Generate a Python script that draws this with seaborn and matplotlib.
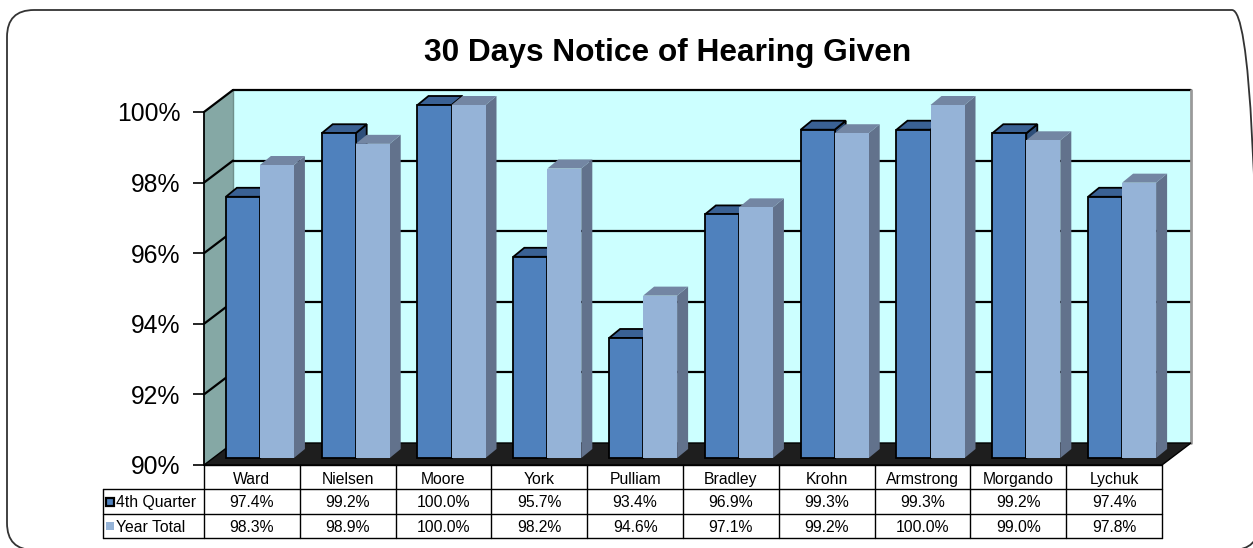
import pandas as pd
import seaborn as sns
import matplotlib.pyplot as plt
from matplotlib.patches import Rectangle, Polygon, FancyBboxPatch
from matplotlib.transforms import offset_copy, IdentityTransform

# data
judges = ["Ward", "Nielsen", "Moore", "York", "Pulliam", "Bradley",
          "Krohn", "Armstrong", "Morgando", "Lychuk"]
q4 = [97.4, 99.2, 100.0, 95.7, 93.4, 96.9, 99.3, 99.3, 99.2, 97.4]
year = [98.3, 98.9, 100.0, 98.2, 94.6, 97.1, 99.2, 100.0, 99.0, 97.8]
series = ["4th Quarter", "Year Total"]
yticks = [90, 92, 94, 96, 98, 100]

# colours for front / top / side faces
front = ["#4F81BD", "#95B3D7"]
top = ["#3A6194", "#7386A3"]
side = ["#2E4F7A", "#62728C"]
edge = ["black", "none"]

W, H = 1253, 548
sns.set_theme(style="white")
plt.rcParams["font.family"] = ["Liberation Sans", "DejaVu Sans"]
plt.rcParams["text.color"] = "black"
plt.rcParams["ytick.color"] = "black"
plt.rcParams["ytick.labelcolor"] = "black"

fig = plt.figure(figsize=(W / 100, H / 100), dpi=100)
ax = fig.add_axes([204 / W, (H - 465) / H, 958 / W, 353 / H])
ax.patch.set_visible(False)

df = pd.DataFrame({
    "Judge": judges * 2,
    "Period": [series[0]] * len(judges) + [series[1]] * len(judges),
    "Value": q4 + year,
})
sns.barplot(data=df, x="Judge", y="Value", hue="Period", hue_order=series,
            palette=front, width=0.71, saturation=1, legend=False, ax=ax)
bars = list(ax.patches)

ax.set_xlim(-0.5, 9.5)
ax.set_ylim(90, 100)
ax.set_autoscale_on(False)

# 3d depth offsets in pixels
DX, DY = 29, 22     # wall depth
BX, BY = 8, 7       # bar front inset
FX, FY = 11, 9      # bar depth
ID = IdentityTransform()


def px(x, y):
    return ax.transData.transform((x, y))


# back wall + gridlines
back = offset_copy(ax.transData, fig=fig, x=DX, y=DY, units="dots")
ax.add_patch(Rectangle((-0.5, 90), 10, 10, transform=back, facecolor="#CCFFFF",
                       edgecolor="none", zorder=0, clip_on=False))
for v in yticks[1:]:
    ax.plot([-0.5, 9.5], [v, v], transform=back, color="black", lw=1.6,
            zorder=0.5, clip_on=False)
ax.plot([9.5, 9.5], [90, 100], transform=back, color="#9A9A9A", lw=2,
        zorder=0.5, clip_on=False)

# left side wall
a, b = px(-0.5, 90), px(-0.5, 100)
ax.add_patch(Polygon([a, b, b + [DX, DY], a + [DX, DY]], transform=ID,
                     facecolor="#85A8A5", edgecolor="none", zorder=0.2, clip_on=False))
for v in yticks[1:]:
    p = px(-0.5, v)
    ax.plot([p[0], p[0] + DX], [p[1], p[1] + DY], transform=ID, color="black",
            lw=1.6, zorder=0.6, clip_on=False)
ax.plot([a[0] + DX, a[0] + DX], [a[1] + DY, b[1] + DY], transform=ID,
        color="#6F8F8C", lw=1, zorder=0.3, clip_on=False)

# floor
c, d = px(-0.5, 90), px(9.5, 90)
ax.add_patch(Polygon([c, d, d + [DX, DY], c + [DX, DY]], transform=ID,
                     facecolor="#1E1E1E", edgecolor="black", lw=1, zorder=1,
                     clip_on=False))

# bars with top and side faces
n = len(judges)
shift = offset_copy(ax.transData, fig=fig, x=BX, y=BY, units="dots")
for k, p in enumerate(bars):
    j = k // n
    i = int(round(p.get_x() + p.get_width() / 2))
    val = p.get_height()
    p.set_y(90)
    p.set_height(val - 90)
    p.set_transform(shift)
    p.set_clip_on(False)
    p.set_edgecolor(edge[j])
    p.set_linewidth(1.3)
    z = 3 + i * 2 + j
    p.set_zorder(z)
    x0, x1 = p.get_x(), p.get_x() + p.get_width()
    tl = px(x0, val) + [BX, BY]
    tr = px(x1, val) + [BX, BY]
    br = px(x1, 90) + [BX, BY]
    ax.add_patch(Polygon([tl, tr, tr + [FX, FY], tl + [FX, FY]], transform=ID,
                         facecolor=top[j], edgecolor=edge[j], lw=1.3,
                         zorder=z - 0.4, clip_on=False))
    ax.add_patch(Polygon([br, tr, tr + [FX, FY], br + [FX, FY]], transform=ID,
                         facecolor=side[j], edgecolor=edge[j], lw=1.3,
                         zorder=z - 0.5, clip_on=False))

# axes styling
ax.set_yticks(yticks)
ax.set_yticklabels([f"{v}%" for v in yticks])
ax.set_xticks([])
ax.set_xlabel("")
ax.set_ylabel("")
ax.tick_params(axis="y", left=True, length=8, width=1.2, color="black",
               labelsize=17.8, pad=9)
for s in ["top", "right", "bottom"]:
    ax.spines[s].set_visible(False)
ax.spines["left"].set_color("black")
ax.spines["left"].set_linewidth(1.3)
ax.spines["left"].set_zorder(2)

fig.text(668 / W, 1 - 53 / H, "30 Days Notice of Hearing Given",
         ha="center", va="center", fontsize=22.8, fontweight="bold", color="black")

# data table
tax = fig.add_axes([204 / W, (H - 538) / H, 958 / W, 73 / H])
tax.set_xlim(-0.5, 9.5)
tax.set_ylim(3, 0)
tax.axis("off")
colw = 958 / 10
rowh = 73 / 3
left = -0.5 - 101 / colw
lc = dict(color="black", lw=1, clip_on=False)
for x in [v - 0.5 for v in range(n + 1)]:
    tax.plot([x, x], [0, 3], **lc)
tax.plot([left, left], [1, 3], **lc)
tax.plot([-0.5, 9.5], [0, 0], **lc)
for y in [1, 2, 3]:
    tax.plot([left, 9.5], [y, y], **lc)

fs = 11.3
for i, name in enumerate(judges):
    tax.text(i, 0.6, name, ha="center", va="center", fontsize=fs)
    tax.text(i, 1.55, f"{q4[i]:.1f}%", ha="center", va="center", fontsize=fs)
    tax.text(i, 2.55, f"{year[i]:.1f}%", ha="center", va="center", fontsize=fs)

kw, kh = 8 / colw, 8 / rowh
for r, lab in enumerate(series):
    yc = 1.5 + r
    tax.add_patch(Rectangle((left + 3 / colw, yc - kh / 2), kw, kh,
                            facecolor=front[r], edgecolor=edge[r], lw=1.6,
                            clip_on=False))
    tax.text(left + 13 / colw, yc + 0.05, lab, ha="left", va="center", fontsize=fs)

# rounded frame
fig.add_artist(FancyBboxPatch((7, -2), 1252, 540,
                              boxstyle="round,pad=0,rounding_size=27",
                              transform=ID, fill=False, edgecolor="#333333", lw=1.3))

fig.savefig("out.png", dpi=100)
